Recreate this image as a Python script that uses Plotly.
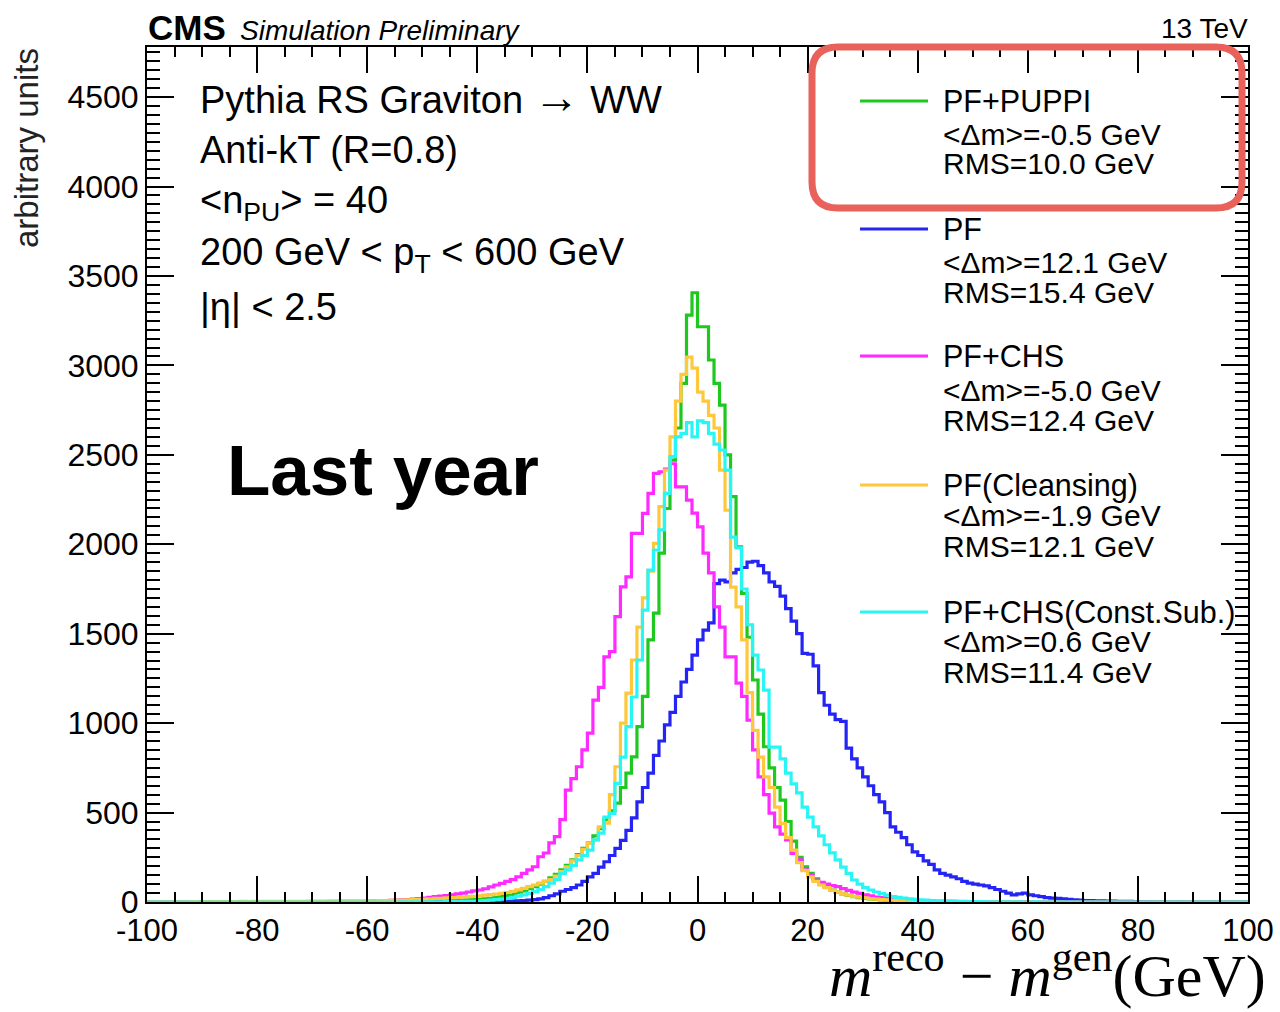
import plotly.graph_objects as go

# ---------------- data (1 GeV bins, lower edges -100 ... 99) ----------------
bin_edges = list(range(-100, 101))

puppi = [
    0,0,0,0,0,0,0,0,0,0,
    0,0,0,0,0,0,0,0,0,0,
    0,0,0,0,0,0,0,0,0,0,
    0,0,0,0,0,1,0,1,1,1,
    1,1,1,1,1,2,2,2,3,3,
    4,4,5,6,7,9,10,11,12,14,
    15,18,21,25,30,36,43,52,62,74,
    86,100,115,135,155,180,205,235,265,300,
    330,370,410,460,510,553,640,720,811,980,
    1150,1465,1615,1950,2200,2470,2650,2900,3281,3406,
    3216,3216,3030,2900,2778,2500,2266,1986,1725,1480,
    1241,1050,868,750,640,570,450,340,250,197,
    160,130,105,85,67,55,45,37,30,25,
    20,17,14,12,10,8,7,6,5,4,
    4,3,3,3,2,2,2,1,1,1,
    1,1,0,1,0,0,0,0,0,0,
    0,0,0,0,0,0,0,0,0,0,
    0,0,0,0,0,0,0,0,0,0,
    0,0,0,0,0,0,0,0,0,0,
    0,0,0,0,0,0,0,0,0,0,
]

pf = [
    0,0,0,0,0,0,0,0,0,0,
    0,0,0,0,0,0,0,0,0,0,
    0,0,0,0,0,0,0,0,0,0,
    0,0,0,0,0,0,0,0,0,0,
    0,0,0,0,0,0,0,0,0,0,
    0,0,0,0,0,0,0,1,0,1,
    1,2,2,3,3,4,5,6,8,10,
    13,18,25,35,45,60,70,80,95,115,
    140,160,195,225,260,300,345,400,470,560,
    640,720,820,900,990,1060,1150,1230,1300,1380,
    1465,1520,1560,1780,1800,1790,1840,1860,1870,1900,
    1905,1880,1840,1790,1765,1710,1640,1570,1500,1390,
    1385,1320,1170,1100,1050,1020,1010,860,800,750,
    700,650,600,560,500,420,390,360,320,280,
    260,230,210,180,160,150,140,130,115,105,
    100,95,90,80,70,60,50,40,45,50,
    40,35,30,25,22,20,17,15,12,10,
    8,8,7,6,5,5,4,3,3,2,
    2,2,1,1,1,1,0,1,0,0,
    0,0,0,0,0,0,0,0,0,0,
]

chs = [
    0,0,0,0,0,0,0,0,0,0,
    0,0,0,0,0,0,0,0,0,0,
    0,0,0,0,0,0,0,0,0,0,
    1,2,2,2,2,3,3,3,4,4,
    5,6,7,8,9,10,12,14,16,19,
    22,26,30,33,36,40,45,50,56,62,
    67,74,85,95,104,115,125,141,160,180,
    197,253,274,330,365,460,626,690,756,850,
    944,1129,1200,1370,1400,1595,1762,1818,2061,2061,
    2173,2284,2396,2405,2420,2450,2321,2321,2247,2174,
    2097,1950,1840,1650,1537,1370,1370,1224,1150,1017,
    850,700,600,497,420,380,347,272,235,180,
    150,123,110,100,92,86,75,65,55,48,
    40,34,28,24,20,17,14,12,10,8,
    7,6,5,4,4,3,3,2,2,2,
    1,1,1,1,0,1,0,0,0,0,
    0,0,0,0,0,0,0,0,0,0,
    0,0,0,0,0,0,0,0,0,0,
    0,0,0,0,0,0,0,0,0,0,
    0,0,0,0,0,0,0,0,0,0,
]

cleansing = [
    1,1,1,1,1,1,1,1,2,1,
    2,1,2,2,2,2,2,3,2,3,
    3,3,3,3,4,3,4,4,4,5,
    5,5,5,6,6,6,6,7,7,7,
    7,7,8,8,9,10,11,12,13,15,
    16,18,20,21,23,24,26,28,30,32,
    35,38,41,44,48,53,60,68,76,86,
    95,105,115,125,145,170,197,230,260,295,
    330,347,420,441,600,756,1000,1168,1353,1537,
    1700,1850,2005,2210,2415,2600,2800,2950,3046,2985,
    2850,2800,2720,2650,2415,2190,1760,1650,1465,1170,
    960,810,700,640,530,440,360,290,220,175,
    140,115,95,80,65,55,46,38,32,27,
    23,19,16,14,12,10,9,8,7,6,
    5,5,4,4,3,3,3,2,2,2,
    2,1,1,1,1,1,1,0,1,0,
    0,0,0,0,0,0,0,0,0,0,
    0,0,0,0,0,0,0,0,0,0,
    0,0,0,0,0,0,0,0,0,0,
    0,0,0,0,0,0,0,0,0,0,
]

constsub = [
    0,0,0,0,0,0,0,0,0,0,
    0,0,0,0,0,0,0,0,0,0,
    0,0,0,0,0,0,0,0,0,0,
    0,0,0,0,0,0,0,0,0,0,
    0,0,0,0,0,0,1,0,1,1,
    1,1,1,1,2,2,2,3,3,4,
    6,8,10,13,16,20,26,33,40,48,
    58,70,86,105,125,160,180,205,235,260,
    290,347,385,475,495,663,810,980,1146,1353,
    1632,1855,1968,2080,2284,2490,2600,2620,2680,2600,
    2690,2680,2620,2560,2527,2415,2040,1980,1750,1550,
    1380,1297,1185,866,866,800,720,660,610,530,
    475,420,370,320,275,235,195,160,123,100,
    80,67,56,47,38,30,26,22,18,15,
    12,10,8,7,6,5,4,3,3,2,
    2,2,1,1,1,1,1,0,1,0,
    0,1,0,0,0,0,0,0,0,0,
    0,0,0,0,0,0,0,0,0,0,
    0,0,0,0,0,0,0,0,0,0,
    0,0,0,0,0,0,0,0,0,0,
]

series_names = ["PF+PUPPI", "PF", "PF+CHS", "PF(Cleansing)", "PF+CHS(Const.Sub.)"]
series_vals = [puppi, pf, chs, cleansing, constsub]
series_colors = ["#1ec81e", "#2424f5", "#ff2aff", "#ffc83c", "#2af5f5"]
series_mean = ["-0.5", "12.1", "-5.0", "-1.9", "0.6"]
series_rms = ["10.0", "15.4", "12.4", "12.1", "11.4"]

x_tick_vals = [-100, -80, -60, -40, -20, 0, 20, 40, 60, 80, 100]
x_tick_text = ["-100", "-80", "-60", "-40", "-20", "0", "20", "40", "60", "80", "100"]

info_lines = [
    "Pythia RS Graviton <span style=\"font-size:46px\">\u2192</span> WW",
    "Anti-kT (R=0.8)",
    "&lt;n<sub>PU</sub>&gt; = 40",
    "200 GeV &lt; p<sub>T</sub> &lt; 600 GeV",
    "|\u03b7| &lt; 2.5",
]

# ---------------- layout helpers (pixel -> paper) ----------------
L, R, T, B = 147, 1248, 47, 902
W, H = R - L, B - T


def fx(px):
    return (px - L) / W


def fy(py):
    return (B - py) / H


SANS = "Liberation Sans, Arial, Helvetica, sans-serif"

fig = go.Figure()
for vals, col in zip(series_vals, series_colors):
    fig.add_trace(go.Scatter(
        x=bin_edges, y=vals + [vals[-1]], mode="lines",
        line=dict(shape="hv", color=col, width=3.2),
        showlegend=False, hoverinfo="skip"))

ann = []
shapes = []


def txt(text, px, py, size, xanchor="left", yanchor="middle", family=SANS, color="black", **kw):
    ann.append(dict(text=text, x=fx(px), y=fy(py), xref="paper", yref="paper",
                    xanchor=xanchor, yanchor=yanchor, showarrow=False,
                    font=dict(family=family, size=size, color=color), **kw))


# CMS header
txt("<b>CMS</b>", 146, 27, 35)
txt("<i>Simulation Preliminary</i>", 238, 30, 28)
txt("13 TeV", 1250, 29, 28, xanchor="right")

# y axis title
txt("arbitrary units", 27, 46, 33, xanchor="center", yanchor="top", color="#222", textangle=-90)

# info text
for line, py in zip(info_lines, [97, 150, 203, 255, 307]):
    txt(line, 198, py, 38)

# Last year
txt("<b>Last year</b>", 225, 470, 71)

# legend
leg_y1 = [101, 229, 356, 485, 612]
leg_y2 = [135, 262, 390, 515, 641]
leg_y3 = [163, 292, 421, 546, 672]
for i in range(5):
    shapes.append(dict(type="line", xref="paper", yref="paper", x0=fx(860), x1=fx(928),
                       y0=fy(leg_y1[i]), y1=fy(leg_y1[i]),
                       line=dict(color=series_colors[i], width=3)))
    txt(series_names[i], 941, leg_y1[i], 30.5)
    txt("&lt;\u0394m&gt;=" + series_mean[i] + " GeV", 941, leg_y2[i], 30)
    txt("RMS=" + series_rms[i] + " GeV", 941, leg_y3[i], 30)

# x axis title
txt("<i>m</i><sup>reco</sup> \u2212 <i>m</i><sup>gen</sup>(GeV)", 1268, 1011, 60,
    xanchor="right", yanchor="bottom", family="Liberation Serif, DejaVu Serif, serif")

# red rounded highlight box
x0, x1, y0, y1, r = 812, 1242, 47, 208, 26
path = (f"M {fx(x0 + r)},{fy(y0)} L {fx(x1 - r)},{fy(y0)} Q {fx(x1)},{fy(y0)} {fx(x1)},{fy(y0 + r)} "
        f"L {fx(x1)},{fy(y1 - r)} Q {fx(x1)},{fy(y1)} {fx(x1 - r)},{fy(y1)} "
        f"L {fx(x0 + r)},{fy(y1)} Q {fx(x0)},{fy(y1)} {fx(x0)},{fy(y1 - r)} "
        f"L {fx(x0)},{fy(y0 + r)} Q {fx(x0)},{fy(y0)} {fx(x0 + r)},{fy(y0)} Z")
shapes.append(dict(type="path", xref="paper", yref="paper", path=path,
                   line=dict(color="#e8615a", width=7)))

fig.update_layout(
    width=1280, height=1012,
    margin=dict(l=L, r=1280 - R, t=T, b=1012 - B, autoexpand=False),
    paper_bgcolor="white", plot_bgcolor="white",
    showlegend=False,
    annotations=ann, shapes=shapes,
    xaxis=dict(range=[-100, 100], tickmode="array", tickvals=x_tick_vals, ticktext=x_tick_text,
               ticks="inside", ticklen=26, tickwidth=2, tickcolor="black",
               minor=dict(tickmode="linear", tick0=0, dtick=5, ticks="inside", ticklen=10,
                          tickwidth=1.5, tickcolor="black"),
               showline=True, linewidth=2, linecolor="black", mirror="ticks",
               showgrid=False, zeroline=False, automargin=False,
               tickfont=dict(family=SANS, size=31, color="black")),
    yaxis=dict(range=[0, 4780], tickmode="linear", tick0=0, dtick=500,
               ticks="inside", ticklen=27, tickwidth=2, tickcolor="black",
               minor=dict(tickmode="linear", tick0=0, dtick=50, ticks="inside", ticklen=13,
                          tickwidth=1.5, tickcolor="black"),
               showline=True, linewidth=2, linecolor="black", mirror="ticks",
               showgrid=False, zeroline=False, automargin=False,
               tickfont=dict(family=SANS, size=32, color="black")),
)

fig.write_html("out.html")
